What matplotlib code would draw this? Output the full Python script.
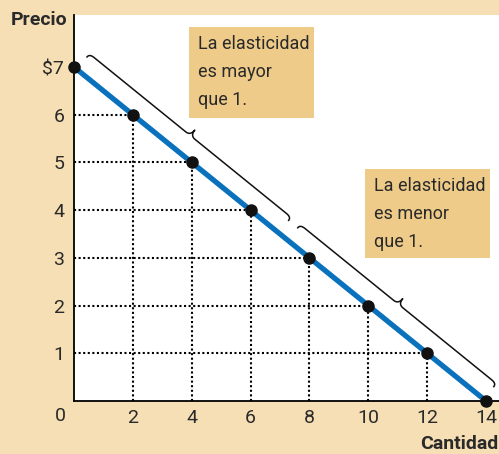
import numpy as np
import matplotlib
matplotlib.use('Agg')
import matplotlib.pyplot as plt
from matplotlib.lines import Line2D
from matplotlib.patches import Rectangle

plt.rcParams['font.family'] = ['Roboto', 'DejaVu Sans']

# demand schedule
cantidad = [0, 2, 4, 6, 8, 10, 12, 14]
precio = [7, 6, 5, 4, 3, 2, 1, 0]
y_ticks = [1, 2, 3, 4, 5, 6, 7]
y_labels = ['1', '2', '3', '4', '5', '6', '$7']
x_ticks = [2, 4, 6, 8, 10, 12, 14]
x_labels = ['2', '4', '6', '8', '10', '12', '14']
# ranges of quantity covered by each brace
brace_spans = [(0.1, 6.95), (7.26, 13.92)]
box_texts = ['La elasticidad\nes mayor\nque 1.', 'La elasticidad\nes menor\nque 1.']

bg = '#f6dfb4'
box_color = '#eecb88'
blue = '#0a72bd'
txt_color = '#2a2a2a'

W, H = 499, 454
fig = plt.figure(figsize=(W / 100, H / 100), dpi=100, facecolor=bg)
ax = fig.add_axes([74 / W, 53 / H, 425 / W, 386 / H])
ax.set_facecolor('white')
ax.set_xlim(0, 14.44)
ax.set_ylim(0, 8.09)
for s in ['top', 'right']:
    ax.spines[s].set_visible(False)
for s in ['left', 'bottom']:
    ax.spines[s].set_linewidth(1.3)

# dotted guides
for x, y in zip(cantidad, precio):
    if x == 0 or y == 0:
        continue
    ax.plot([0, x], [y, y], color='black', lw=1.5, ls=(0, (1, 1.2)), zorder=2)
    ax.plot([x, x], [0, y], color='black', lw=1.5, ls=(0, (1, 1.2)), zorder=2)

ax.plot(cantidad, precio, color=blue, lw=3.8, solid_capstyle='butt', zorder=3, clip_on=False)
ax.plot(cantidad, precio, 'o', color='#111111', ms=8, zorder=4, clip_on=False)

ax.set_xticks(x_ticks)
ax.set_xticklabels(x_labels)
ax.set_yticks(y_ticks)
ax.set_yticklabels(y_labels)
ax.tick_params(length=0, labelsize=14, colors=txt_color, pad=6)
ax.tick_params(axis='y', pad=7)


def to_fig(px, py):
    return px / W, 1 - py / H


fig.text(*to_fig(60, 416), '0', fontsize=14, color=txt_color, ha='center', va='center')
fig.text(*to_fig(11, 20), 'Precio', fontsize=14, fontweight='bold', color=txt_color,
         ha='left', va='center')
fig.text(*to_fig(498, 444), 'Cantidad', fontsize=14, fontweight='bold', color=txt_color,
         ha='right', va='center')

# text boxes
boxes = [(189, 27, 314, 118), (365, 169, 490, 258)]
for (x0, y0, x1, y1), txt in zip(boxes, box_texts):
    fx0, fy1 = to_fig(x0, y0)
    fx1, fy0 = to_fig(x1, y1)
    fig.add_artist(Rectangle((fx0, fy0), fx1 - fx0, fy1 - fy0, transform=fig.transFigure,
                             facecolor=box_color, edgecolor='none', zorder=5))
    fig.text(*to_fig(x0 + 9, y0 + 8), txt, fontsize=13, color=txt_color, ha='left', va='top',
             linespacing=1.7, zorder=6)


def qbez(a, c, b, n=12):
    t = np.linspace(0, 1, n)[:, None]
    a, c, b = map(np.array, (a, c, b))
    return (1 - t) ** 2 * a + 2 * (1 - t) * t * c + t ** 2 * b


def brace(xa, xb, tip=16, mid=20, cusp=27, r=6):
    p0 = ax.transData.transform((xa, 7 - xa / 2))
    p1 = ax.transData.transform((xb, 7 - xb / 2))
    L = np.hypot(*(p1 - p0))
    d = (p1 - p0) / L
    nrm = np.array([-d[1], d[0]])
    m = L / 2
    pts = np.vstack([
        qbez((0, tip), (0, mid), (r, mid)),
        qbez((m - r, mid), (m, mid), (m, cusp)),
        qbez((m, cusp), (m, mid), (m + r, mid)),
        qbez((L - r, mid), (L, mid), (L, tip)),
    ])
    disp = p0 + pts[:, :1] * d + pts[:, 1:] * nrm
    f = fig.transFigure.inverted().transform(disp)
    fig.add_artist(Line2D(f[:, 0], f[:, 1], transform=fig.transFigure, color='#111111', lw=1.1))


for xa, xb in brace_spans:
    brace(xa, xb)

fig.savefig('out.png', dpi=100, facecolor=bg)
